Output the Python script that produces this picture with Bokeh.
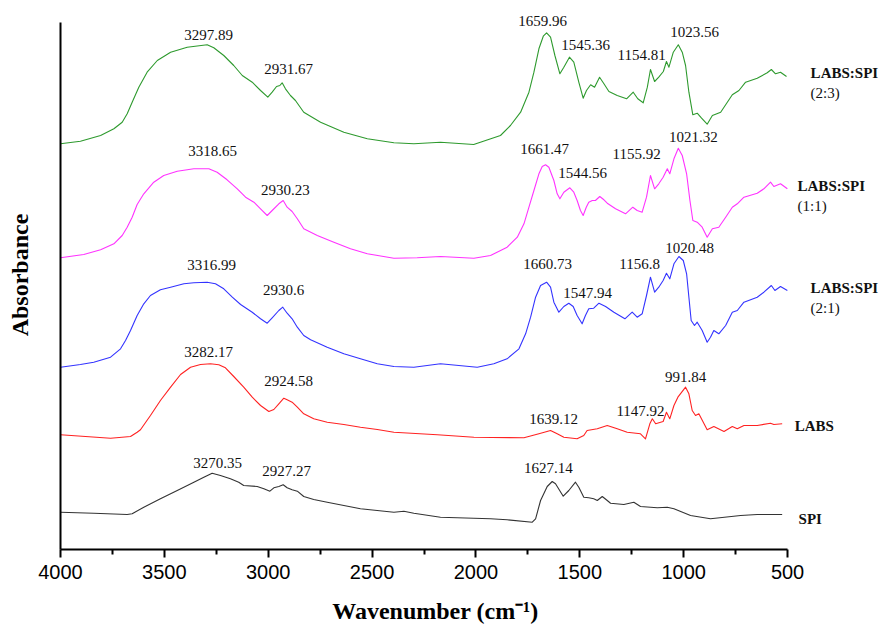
from bokeh.plotting import figure
from bokeh.models import Range1d, FixedTicker, ColumnDataSource
from bokeh.core.properties import value
from bokeh.embed import file_html
from bokeh.resources import INLINE

# ---------------- data (absorbance in arbitrary units, offset-stacked) -------------
green_wn = [4000, 3904, 3807, 3743, 3703, 3679, 3655, 3623, 3583, 3534, 3470, 3390, 3294, 3262, 3214, 3166,
            3125, 3077, 3037, 3002, 2981, 2960, 2944, 2933, 2917, 2893, 2869, 2829, 2748, 2636, 2523, 2395,
            2299, 2171, 2011, 1882, 1834, 1785, 1745, 1721, 1697, 1676, 1660, 1641, 1620, 1596, 1577, 1550,
            1529, 1505, 1484, 1468, 1448, 1429, 1405, 1384, 1360, 1320, 1275, 1243, 1221, 1195, 1175, 1160,
            1140, 1120, 1098, 1083, 1071, 1050, 1026, 1007, 991, 975, 956, 935, 914, 887, 862, 822,
            766, 734, 702, 646, 598, 578, 558, 534, 505]
green_ab = [405.7, 408.3, 414, 420.7, 427.3, 435.7, 447.3, 462.3, 477.3, 489, 497.3, 502.3, 504.7, 501.7, 494, 484,
            474, 467.3, 459, 452.3, 457.3, 463, 464, 466.7, 460.7, 454, 449, 437.3, 427.3, 417.3, 410.7, 406.7,
            405.7, 407.3, 405, 414, 424, 437.3, 457.3, 477.3, 500.7, 513.3, 516.7, 512.3, 494, 475.7, 482.3, 492.3,
            487.3, 467.3, 451.3, 459, 464.7, 462.3, 472.3, 465.7, 458, 454, 450.7, 457.3, 450.7, 446.7, 462.3, 480,
            468, 472.3, 478, 488, 482.3, 497.3, 504.7, 497.3, 484, 457.3, 434.7, 436.3, 431.3, 425.3, 434, 437.3,
            454.7, 459, 467.3, 471.3, 476.7, 480, 475.7, 477.3, 473]

magenta_wn = [4000, 3888, 3807, 3743, 3703, 3679, 3655, 3631, 3599, 3551, 3503, 3438, 3358, 3286, 3246, 3198,
              3149, 3109, 3069, 3037, 3005, 2981, 2949, 2928, 2909, 2885, 2860, 2829, 2764, 2684, 2604, 2523,
              2395, 2283, 2171, 2010, 1930, 1850, 1801, 1769, 1745, 1721, 1697, 1681, 1665, 1649, 1625, 1609,
              1596, 1577, 1548, 1529, 1513, 1497, 1484, 1469, 1457, 1440, 1425, 1404, 1384, 1368, 1328, 1280,
              1245, 1224, 1200, 1179, 1160, 1140, 1120, 1099, 1079, 1067, 1047, 1026, 1007, 986, 970, 956,
              935, 911, 887, 862, 831, 798, 766, 742, 710, 646, 614, 582, 566, 534, 501]
magenta_ab = [291.7, 295, 299.7, 305.7, 314, 322.3, 332.3, 345, 355.7, 367.3, 374, 378.3, 380.7, 380.7, 377.3, 369.7,
              360.7, 352.3, 347.3, 340.7, 334, 339, 345.7, 349, 342.3, 338, 330.7, 320.7, 314, 307.3, 300.7, 295.7,
              291.3, 291.7, 293, 291.3, 294, 302.3, 312.3, 325.7, 342.3, 359, 375.7, 383, 384.7, 382.3, 369, 355.7,
              350.7, 357.3, 361.7, 357.3, 349, 339, 334, 342.3, 347.3, 349, 349, 353, 349.7, 346.3, 340.7, 335.7,
              342.3, 339, 337.3, 352.3, 374, 360.7, 365.7, 372.3, 380.7, 375.7, 390.7, 401.3, 394, 375.7, 349, 329,
              327.3, 322.3, 312.3, 320.7, 322.3, 332.3, 342.3, 345.7, 352.3, 356.3, 360.7, 367.3, 363, 365.7, 360.7]

blue_wn = [4000, 3904, 3840, 3759, 3711, 3687, 3663, 3631, 3599, 3567, 3519, 3470, 3406, 3358, 3294, 3254,
           3214, 3173, 3133, 3077, 3037, 3005, 2981, 2949, 2930, 2909, 2885, 2860, 2829, 2796, 2716, 2636,
           2556, 2475, 2395, 2299, 2171, 1994, 1914, 1850, 1793, 1761, 1737, 1713, 1689, 1660, 1641, 1625,
           1601, 1577, 1553, 1532, 1513, 1489, 1473, 1457, 1433, 1408, 1376, 1336, 1283, 1248, 1224, 1200,
           1179, 1160, 1140, 1120, 1099, 1083, 1067, 1047, 1023, 1002, 986, 975, 964, 948, 935, 911,
           887, 871, 855, 831, 798, 766, 742, 710, 646, 614, 578, 561, 534, 501]
blue_ab = [182.3, 185, 187.3, 192.3, 200.7, 209, 219, 234, 245.7, 254, 259.7, 262.3, 265.7, 266.7, 267.3, 265.7,
           260.7, 252.3, 245, 237.3, 230.7, 226.3, 231.7, 239, 242.3, 236.3, 230.7, 222.3, 214, 209.7, 202.3, 195.7,
           190.7, 185.7, 183, 182.3, 185.7, 182.3, 185.7, 190.7, 200.7, 215.7, 232.3, 252.3, 264, 267.3, 262.3, 247.3,
           237.3, 243, 246.3, 243, 234, 225.7, 234, 240.7, 241.3, 246.3, 243, 237.3, 230.7, 237.3, 232.3, 235.7,
           254, 272.3, 257.3, 262.3, 269, 276.3, 270.7, 285.7, 293, 289, 275.7, 252.3, 229, 224, 227.3, 219,
           207.3, 212.3, 219, 215.7, 224, 237.3, 239, 247.3, 252.3, 257.3, 264, 259, 263, 259]

red_wn = [4000, 3759, 3663, 3631, 3615, 3567, 3519, 3470, 3422, 3374, 3326, 3278, 3238, 3206, 3166, 3118,
          3077, 3037, 2997, 2973, 2949, 2925, 2909, 2885, 2860, 2829, 2781, 2716, 2636, 2556, 2475, 2395,
          2186, 2010, 1769, 1697, 1641, 1609, 1577, 1513, 1481, 1465, 1416, 1368, 1320, 1272, 1208, 1184,
          1163, 1151, 1135, 1099, 1083, 1067, 1047, 1028, 991, 975, 959, 943, 927, 887, 855, 806,
          766, 742, 710, 646, 582, 566, 526]
red_ab = [114.7, 111.3, 113, 117.3, 119.7, 134, 149, 162.3, 175, 182.3, 185, 185.7, 184.7, 181.7, 173, 162.3,
          152.3, 144, 138, 140, 145.7, 151.3, 149.7, 147.3, 142.3, 135.7, 130.7, 127.3, 125, 122.3, 120, 117.3,
          114.7, 112.3, 111.7, 115.7, 119, 115.7, 112.3, 110.7, 114, 119, 120.7, 124, 120.7, 117.3, 115.7, 110.7,
          125.7, 130.7, 125.7, 128, 137.3, 130.7, 144, 152.3, 162.3, 155.7, 139, 134, 135.7, 119.7, 123, 118,
          123, 120.7, 124, 124, 126.3, 125, 125.7]

black_wn = [4000, 3840, 3679, 3655, 3599, 3519, 3438, 3358, 3310, 3270, 3230, 3182, 3142, 3118, 3053, 3021,
            2992, 2973, 2949, 2928, 2909, 2885, 2860, 2829, 2781, 2716, 2556, 2395, 2347, 2299, 2171, 1930,
            1850, 1729, 1713, 1689, 1657, 1633, 1617, 1580, 1553, 1521, 1505, 1481, 1457, 1433, 1416, 1392,
            1368, 1352, 1288, 1240, 1208, 1127, 1079, 1047, 967, 871, 726, 646, 526]
black_ab = [37.3, 36.3, 35, 35.7, 42.3, 50.7, 59, 67.3, 72.3, 76.3, 74, 70.7, 67.3, 64, 63, 60.7,
            58.3, 61.7, 63, 64.7, 61.7, 59.7, 58.3, 53, 50, 47.3, 40.7, 37.3, 38.3, 36.3, 32.3, 30.7,
            29.7, 27.3, 30.7, 49, 63, 68, 65.7, 53.3, 59, 67.3, 62.3, 52.3, 51.7, 50.7, 49, 53,
            49, 46.3, 45, 47.3, 43, 41.7, 42.3, 40.7, 34, 30.7, 34, 35, 35]

series_names = ["LABS:SPI (2:3)", "LABS:SPI (1:1)", "LABS:SPI (2:1)", "LABS", "SPI"]
series_colors = ["#2e9a2e", "#ff33ff", "#3333ff", "#ff2222", "#333333"]

# peak annotations: text, wavenumber of the text centre, absorbance of the text centre
peak_text = ["3297.89", "2931.67", "1659.96", "1545.36", "1154.81", "1023.56",
             "3318.65", "2930.23", "1661.47", "1544.56", "1155.92", "1021.32",
             "3316.99", "2930.6", "1660.73", "1547.94", "1156.8", "1020.48",
             "3282.17", "2924.58", "1639.12", "1147.92", "991.84",
             "3270.35", "2927.27", "1627.14"]
peak_x = [3287, 2902, 1679, 1472, 1203, 948,
          3268, 2917, 1670, 1487, 1227, 953,
          3273, 2926, 1655, 1463, 1212, 972,
          3287, 2902, 1626, 1208, 991,
          3244, 2912, 1651]
peak_y = [515, 481, 529, 505, 495, 518,
          399, 360, 401, 377, 396, 413,
          285, 260, 286, 257, 286, 302,
          198, 169, 131, 139, 173,
          87, 79, 82]

# right-hand series names
name_text = ["LABS:SPI", "(2:3)", "LABS:SPI", "(1:1)", "LABS:SPI", "(2:1)", "LABS", "SPI"]
name_bold = [True, False, True, False, True, False, True, True]
name_x = [389, 389, 452, 452, 389, 389, 466, 447]
name_y = [477, 457, 364, 344, 262, 242, 124, 31]

x_ticks = [4000, 3500, 3000, 2500, 2000, 1500, 1000, 500]
x_minor = [3750, 3250, 2750, 2250, 1750, 1250, 750]
x_title = "Wavenumber (cm\u207b\u00b9)"
y_title = "Absorbance"

# ---------------- figure -------------
p = figure(width=882, height=626, output_backend="svg", toolbar_location=None,
           x_range=Range1d(4000, 43), y_range=Range1d(0, 549),
           min_border_left=60, min_border_right=0, min_border_top=0, min_border_bottom=77)
p.background_fill_color = "white"
p.border_fill_color = "white"
p.outline_line_color = None
p.xgrid.visible = False
p.ygrid.visible = False

series = [(green_wn, green_ab), (magenta_wn, magenta_ab), (blue_wn, blue_ab), (red_wn, red_ab), (black_wn, black_ab)]
for (wn, ab), c in zip(series, series_colors):
    p.line(x=wn, y=ab, line_color=c, line_width=1.1, line_join="round")

serif = value("Liberation Serif")
psrc = ColumnDataSource(dict(x=peak_x, y=peak_y, t=peak_text))
p.text(x="x", y="y", text="t", source=psrc, text_font=serif, text_font_size="15px",
       text_align="center", text_baseline="middle", text_color="#111111")

for t, b, x, y in zip(name_text, name_bold, name_x, name_y):
    p.text(x=[x], y=[y], text=[t], text_font=serif, text_font_size="15px",
           text_font_style="bold" if b else "normal",
           text_align="left", text_baseline="middle", text_color="#111111")

# x axis
xa = p.xaxis[0]
xa.ticker = FixedTicker(ticks=x_ticks, minor_ticks=x_minor)
xa.bounds = (500, 4000)
xa.axis_line_width = 2
xa.axis_line_color = "black"
xa.major_tick_in = 0
xa.major_tick_out = 8
xa.major_tick_line_width = 2
xa.minor_tick_in = 0
xa.minor_tick_out = 5
xa.minor_tick_line_width = 2
xa.major_label_text_font = "Liberation Sans"
xa.major_label_text_font_size = "20px"
xa.major_label_text_color = "black"
xa.major_label_standoff = 7
# the label is centred on the (wider) frame; trailing no-break spaces shift the visible text
# so that it sits centred under the drawn 500-4000 axis, as in the reference
xa.axis_label = x_title + "\u00a0" * 12
xa.axis_label_text_font = "Liberation Serif"
xa.axis_label_text_font_style = "bold"
xa.axis_label_text_font_size = "24px"
xa.axis_label_text_color = "black"
xa.axis_label_standoff = 16

# y axis
ya = p.yaxis[0]
ya.ticker = FixedTicker(ticks=[], minor_ticks=[])
ya.bounds = (0, 527)
ya.axis_line_width = 2
ya.axis_line_color = "black"
ya.major_tick_out = 0
ya.major_tick_in = 0
ya.minor_tick_out = 0
ya.minor_tick_in = 0
ya.major_label_text_font_size = "0px"
ya.axis_label = y_title
ya.axis_label_text_font = "Liberation Serif"
ya.axis_label_text_font_style = "bold"
ya.axis_label_text_font_size = "24px"
ya.axis_label_text_color = "black"
ya.axis_label_standoff = 28

open("out.html", "w").write(file_html(p, INLINE))
